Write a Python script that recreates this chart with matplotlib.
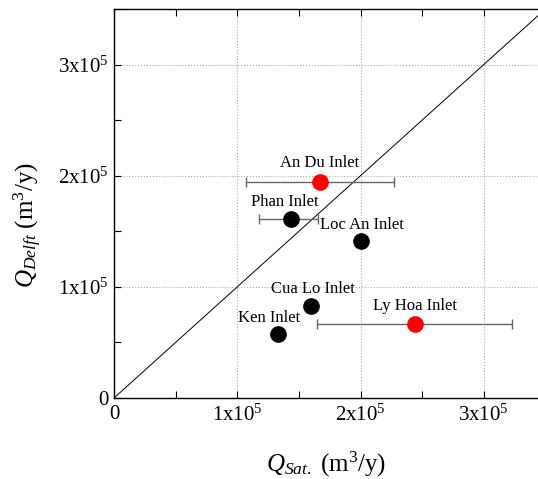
import matplotlib
matplotlib.use("Agg")
import matplotlib.pyplot as plt
from matplotlib.ticker import MultipleLocator, FuncFormatter

plt.rcParams['font.family'] = ['Liberation Serif', 'DejaVu Serif']
plt.rcParams['mathtext.fontset'] = 'custom'
plt.rcParams['mathtext.rm'] = 'Liberation Serif'
plt.rcParams['mathtext.it'] = 'Liberation Serif:italic'

names = ["An Du Inlet", "Phan Inlet", "Loc An Inlet", "Cua Lo Inlet", "Ken Inlet", "Ly Hoa Inlet"]
q_sat = [1.67e5, 1.435e5, 2.0e5, 1.6e5, 1.33e5, 2.44e5]
q_delft = [1.945e5, 1.61e5, 1.41e5, 0.83e5, 0.575e5, 0.67e5]
colors = ["red", "black", "black", "black", "black", "red"]
err_low = [1.07e5, 1.18e5, None, None, None, 1.65e5]
err_high = [2.27e5, 1.655e5, None, None, None, 3.23e5]
label_offsets = [(0, 13.5), (-4.5, 12.5), (1, 11.5), (1, 12), (-6.5, 11.5), (0, 12.5)]

fig = plt.figure(figsize=(5.38, 4.79), dpi=100)
ax = fig.add_axes([114/538, 81/479, (538-114)/538, (398-9)/479])

ax.plot([0, 3.6e5], [0, 3.6e5], color="black", lw=0.7, zorder=2)

for x, y, c, lo, hi in zip(q_sat, q_delft, colors, err_low, err_high):
    if lo is not None:
        ax.errorbar(x, y, xerr=[[x - lo], [hi - x]], fmt="none", ecolor="#666666",
                    elinewidth=1.0, capsize=3.5, capthick=1.0, zorder=3)
for x, y, c in zip(q_sat, q_delft, colors):
    ax.plot(x, y, "o", color=c, ms=11, zorder=4)

for n, x, y, (dx, dy) in zip(names, q_sat, q_delft, label_offsets):
    ax.annotate(n, (x, y), xytext=(dx, dy), textcoords="offset points",
                ha="center", va="center", fontsize=12, zorder=5)

ax.set_xlim(0, 3.44e5)
ax.set_ylim(0, 3.5e5)

def fmt(v, pos):
    if abs(v) < 1:
        return "0"
    return r"%dx10$^{5}$" % round(v / 1e5)

for axis in (ax.xaxis, ax.yaxis):
    axis.set_major_locator(MultipleLocator(1e5))
    axis.set_minor_locator(MultipleLocator(5e4))
    axis.set_major_formatter(FuncFormatter(fmt))

ax.tick_params(which="both", direction="in", top=True, right=False, labelsize=15)
ax.tick_params(which="major", length=5, width=0.8)
ax.tick_params(which="minor", length=5, width=0.8)
ax.tick_params(axis="x", pad=5)
ax.tick_params(axis="y", pad=4)
ax.grid(True, which="major", linestyle=":", color="#aaaaaa", lw=0.8)
ax.set_axisbelow(True)
ax.spines["right"].set_visible(False)
for s in ("left", "bottom", "top"):
    ax.spines[s].set_linewidth(1.0)

ax.set_xlabel(r"$Q_{Sat.}$ (m$^3$/y)", fontsize=18)
ax.set_ylabel(r"$Q_{Delft}$ (m$^3$/y)", fontsize=18)
ax.xaxis.set_label_coords(0.5, -0.172)
ax.yaxis.set_label_coords(-0.203, 0.445)
ax.xaxis.label.set_va("center")
ax.yaxis.label.set_va("center")

fig.savefig("out.png", dpi=100)
